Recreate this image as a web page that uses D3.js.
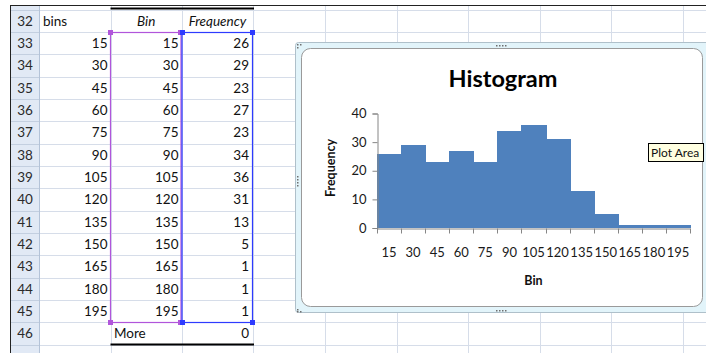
<!DOCTYPE html>
<html>
<head>
<meta charset="utf-8">
<script src="https://cdn.jsdelivr.net/npm/d3@7"></script>
<style>
  body { margin: 0; background: #fff; }
  svg { display: block; }
  text { font-family: Lato, "Open Sans", sans-serif; }
</style>
</head>
<body>
<svg id="sheet" width="706" height="353"></svg>
<script>
// Worksheet rows 32–46: bin limits and the frequency table produced from them
const rowNumbers = [32, 33, 34, 35, 36, 37, 38, 39, 40, 41, 42, 43, 44, 45, 46, 47];
const binLimits = [15, 30, 45, 60, 75, 90, 105, 120, 135, 150, 165, 180, 195];
const frequencies = [26, 29, 23, 27, 23, 34, 36, 31, 13, 5, 1, 1, 1];
const moreLabel = "More";
const moreCount = 0;
const yTicks = [0, 10, 20, 30, 40];
const chartTitle = "Histogram";
const xTitle = "Bin";
const yTitle = "Frequency";

const svg = d3.select("#sheet");

// ---- grid geometry ----
const colEdges = [10, 40, 110.5, 182, 253, 325, 396.5, 468, 539.5, 611, 682.5, 754];
const rowH = 22.33;
const rowTop = r => 9.6 + (r - 32) * rowH;
const gridColor = "#D6DDE9";

const grid = svg.append("g");
// horizontal gridlines
rowNumbers.forEach(r => {
  grid.append("line")
    .attr("x1", 40).attr("x2", 706)
    .attr("y1", Math.round(rowTop(r)) + 0.5).attr("y2", Math.round(rowTop(r)) + 0.5)
    .attr("stroke", gridColor);
});
// vertical gridlines
colEdges.slice(2).forEach(x => {
  grid.append("line")
    .attr("x1", Math.round(x) + 0.5).attr("x2", Math.round(x) + 0.5)
    .attr("y1", 5).attr("y2", 353)
    .attr("stroke", gridColor);
});

// row header column
const hdr = svg.append("g");
hdr.append("rect").attr("x", 10).attr("y", 5).attr("width", 30).attr("height", 348)
  .attr("fill", "#E1E9F5");
rowNumbers.forEach(r => {
  hdr.append("line")
    .attr("x1", 10).attr("x2", 40)
    .attr("y1", Math.round(rowTop(r)) + 0.5).attr("y2", Math.round(rowTop(r)) + 0.5)
    .attr("stroke", "#C3CFE0");
  if (r <= 46) {
    hdr.append("text")
      .attr("x", 25).attr("y", rowTop(r) + rowH / 2 + 5)
      .attr("text-anchor", "middle")
      .attr("font-size", 13.5).attr("fill", "#2a2a2a")
      .text(r);
  }
});
hdr.append("line").attr("x1", 39.5).attr("x2", 39.5).attr("y1", 5).attr("y2", 353)
  .attr("stroke", "#B4C3D8");
// outer frame of the window
svg.append("line").attr("x1", 10).attr("x2", 706).attr("y1", 5.5).attr("y2", 5.5)
  .attr("stroke", "#222").attr("stroke-width", 1);
svg.append("line").attr("x1", 10.5).attr("x2", 10.5).attr("y1", 5).attr("y2", 353)
  .attr("stroke", "#222").attr("stroke-width", 1);

// ---- cell contents ----
const cells = svg.append("g").attr("font-size", 13.5).attr("fill", "#111");
const cellY = r => rowTop(r) + rowH / 2 + 5;
cells.append("text").attr("x", 43).attr("y", cellY(32)).text("bins");
cells.append("text").attr("x", (colEdges[2] + colEdges[3]) / 2).attr("y", cellY(32))
  .attr("text-anchor", "middle").attr("font-style", "italic").text(xTitle);
cells.append("text").attr("x", (colEdges[3] + colEdges[4]) / 2).attr("y", cellY(32))
  .attr("text-anchor", "middle").attr("font-style", "italic").text(yTitle);

binLimits.forEach((b, i) => {
  const r = 33 + i;
  cells.append("text").attr("x", colEdges[2] - 3).attr("y", cellY(r))
    .attr("text-anchor", "end").text(b);
  cells.append("text").attr("x", colEdges[3] - 3.5).attr("y", cellY(r))
    .attr("text-anchor", "end").text(b);
  cells.append("text").attr("x", colEdges[4] - 4).attr("y", cellY(r))
    .attr("text-anchor", "end").text(frequencies[i]);
});
cells.append("text").attr("x", colEdges[2] + 3.5).attr("y", cellY(46)).text(moreLabel);
cells.append("text").attr("x", colEdges[4] - 4).attr("y", cellY(46))
  .attr("text-anchor", "end").text(moreCount);

// table borders (thick top over the header, thick bottom under the last row)
svg.append("line").attr("x1", colEdges[2]).attr("x2", colEdges[4] + 1)
  .attr("y1", 8.5).attr("y2", 8.5).attr("stroke", "#000").attr("stroke-width", 2);
svg.append("line").attr("x1", colEdges[2]).attr("x2", colEdges[4] + 1)
  .attr("y1", rowTop(47)).attr("y2", rowTop(47)).attr("stroke", "#000").attr("stroke-width", 2);

// ---- range highlights for the chart's source data ----
const selTop = Math.round(rowTop(33)) + 0.5;
const selBot = Math.round(rowTop(46)) + 0.5;
const purple = "#B155DB", blue = "#2E3BFF";
svg.append("rect").attr("x", 110.5).attr("y", selTop).attr("width", 70.5).attr("height", selBot - selTop)
  .attr("fill", "none").attr("stroke", purple).attr("stroke-width", 1.2);
svg.append("rect").attr("x", 182).attr("y", selTop).attr("width", 70.5).attr("height", selBot - selTop)
  .attr("fill", "none").attr("stroke", blue).attr("stroke-width", 1.2);
[[110.5, purple], [180.5, purple], [182.5, blue], [252.5, blue]].forEach(([x, c]) => {
  [selTop, selBot].forEach(y => {
    svg.append("rect").attr("x", x - 2.5).attr("y", y - 2.5).attr("width", 5).attr("height", 5)
      .attr("fill", c);
  });
});

// ---- embedded chart object ----
const chart = svg.append("g");
chart.append("rect").attr("x", 295.5).attr("y", 42.5).attr("width", 430).attr("height", 270)
  .attr("rx", 3).attr("fill", "#E2F4FA").attr("stroke", "#AFC0CA");
chart.append("rect").attr("x", 301.5).attr("y", 48.5).attr("width", 401).attr("height", 258)
  .attr("rx", 9).attr("fill", "#fff").attr("stroke", "#9A9A9A");
// sizing handle dots
const dot = (x, y) => chart.append("rect").attr("x", x).attr("y", y).attr("width", 1.5).attr("height", 1.5).attr("fill", "#6f6f6f");
[0, 1, 2, 3].forEach(k => { dot(496 + k * 3, 45); dot(496 + k * 3, 310); dot(297, 176 + k * 3); });
[[297, 44], [300, 44], [297, 47], [297, 309], [297, 311], [300, 311]].forEach(([x, y]) => dot(x, y));

// plot area
const plotLeft = 377, plotRight = 690, plotTop = 113.5, plotBottom = 228;
const x = d3.scaleBand().domain(binLimits).range([plotLeft, plotRight]).padding(0);
const y = d3.scaleLinear().domain([0, 40]).range([plotBottom, plotTop]);

// adjacent columns with no gap; snapped to whole pixels so no seams show
chart.append("g").attr("shape-rendering", "crispEdges")
  .selectAll("rect").data(binLimits).join("rect")
  .attr("x", d => Math.round(x(d)))
  .attr("width", d => Math.round(x(d) + x.bandwidth()) - Math.round(x(d)) + 1)
  .attr("y", (d, i) => Math.round(y(frequencies[i])))
  .attr("height", (d, i) => Math.round(y(0)) - Math.round(y(frequencies[i])))
  .attr("fill", "#4F81BD");

const axisColor = "#868686";
// y axis
const yAxis = chart.append("g").attr("transform", `translate(${plotLeft + 0.5},0)`)
  .call(d3.axisLeft(y).tickValues(yTicks).tickSize(5).tickPadding(6));
yAxis.select(".domain").attr("stroke", axisColor);
yAxis.selectAll(".tick line").attr("stroke", axisColor);
yAxis.selectAll(".tick text").attr("font-size", 13).attr("fill", "#1a1a1a")
  .attr("font-family", "Lato, sans-serif");

// x axis with ticks between categories
const xAxis = chart.append("g").attr("transform", `translate(0,${plotBottom + 0.5})`)
  .call(d3.axisBottom(x).tickSize(0).tickPadding(19));
xAxis.select(".domain").attr("stroke", axisColor);
xAxis.selectAll(".tick text").attr("font-size", 13).attr("fill", "#1a1a1a")
  .attr("font-family", "Lato, sans-serif");
const edges = binLimits.map(d => x(d)).concat([plotRight]);
xAxis.selectAll(".edge").data(edges).join("line")
  .attr("x1", d => Math.round(d) + 0.5).attr("x2", d => Math.round(d) + 0.5)
  .attr("y1", 0).attr("y2", 5).attr("stroke", axisColor);

// titles
chart.append("text").attr("x", 503).attr("y", 87).attr("text-anchor", "middle")
  .attr("font-size", 23.5).attr("font-weight", "bold").attr("fill", "#000").text(chartTitle);
chart.append("text").attr("x", (plotLeft + plotRight) / 2).attr("y", 285).attr("text-anchor", "middle")
  .attr("font-size", 12.5).attr("font-weight", "bold").attr("fill", "#111").text(xTitle);
chart.append("text").attr("transform", "translate(334.5,168) rotate(-90)").attr("text-anchor", "middle")
  .attr("font-size", 12.5).attr("font-weight", "bold").attr("fill", "#111").text(yTitle);

// hover tip over the plot area
const tip = chart.append("g");
tip.append("rect").attr("x", 648.5).attr("y", 143.5).attr("width", 55).attr("height", 18)
  .attr("fill", "#FFFFE1").attr("stroke", "#000");
tip.append("text").attr("x", 651).attr("y", 157).attr("font-size", 12).attr("fill", "#111").text("Plot Area");
</script>
</body>
</html>
